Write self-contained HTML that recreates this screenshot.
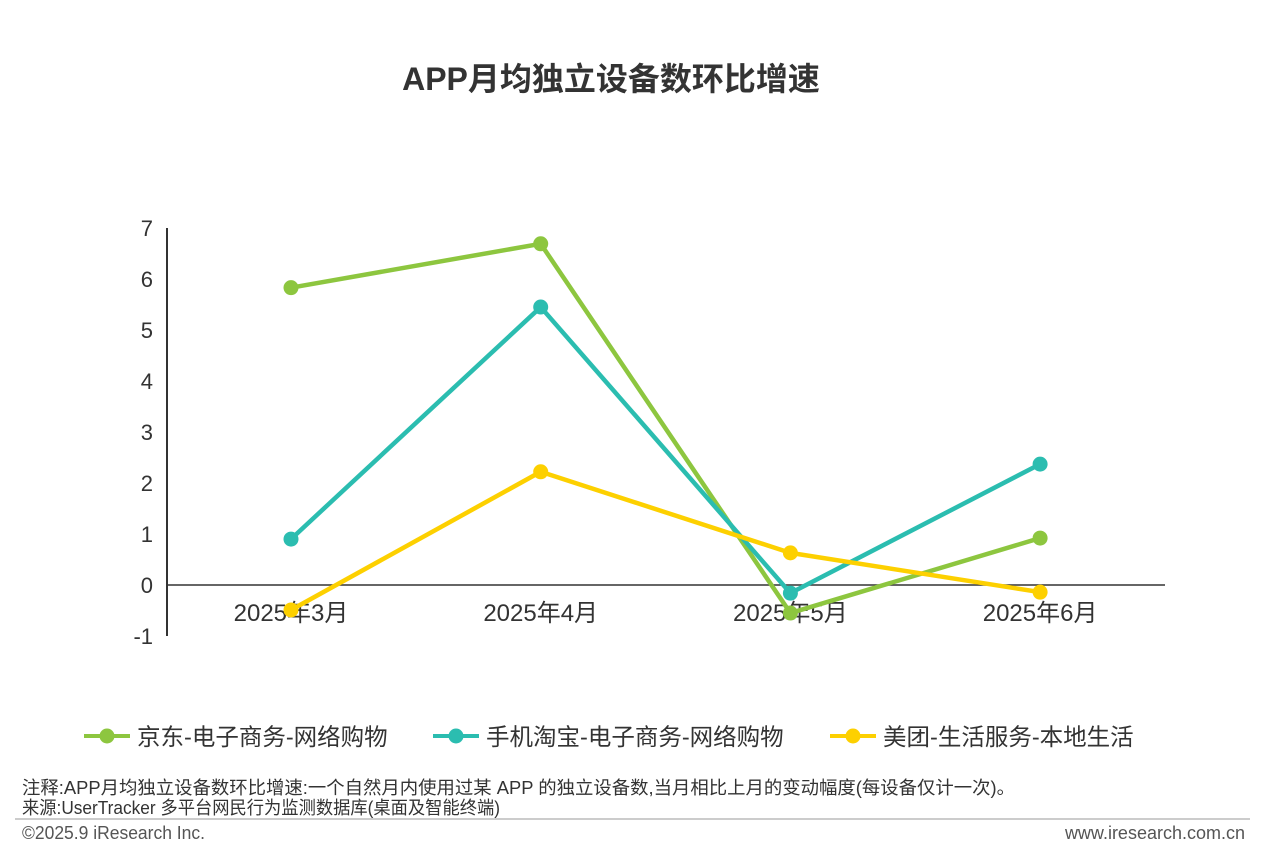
<!DOCTYPE html>
<html><head><meta charset="utf-8">
<style>
body{margin:0;width:1265px;height:843px;background:#fff;overflow:hidden;font-family:"Liberation Sans","Noto Sans CJK SC",sans-serif;}
svg text{font-family:"Liberation Sans","Noto Sans CJK SC",sans-serif;}
</style></head><body>
<svg id="chart" width="1265" height="843">
<text x="611" y="90" text-anchor="middle" font-size="32" font-weight="bold" fill="#333">APP月均独立设备数环比增速</text>
<g id="axes"></g>
<g id="series"></g>
<g id="legend"></g>
<text x="22" y="794" font-size="18" fill="#333" textLength="993" lengthAdjust="spacingAndGlyphs">注释:APP月均独立设备数环比增速:一个自然月内使用过某 APP 的独立设备数,当月相比上月的变动幅度(每设备仅计一次)。</text>
<text x="22" y="814" font-size="18" fill="#333" textLength="478" lengthAdjust="spacingAndGlyphs">来源:UserTracker 多平台网民行为监测数据库(桌面及智能终端)</text>
<line x1="15" y1="819" x2="1250" y2="819" stroke="#999" stroke-width="1"/>
<text x="22" y="839" font-size="18" fill="#555" textLength="183" lengthAdjust="spacingAndGlyphs">©2025.9 iResearch Inc.</text>
<text x="1245" y="839" text-anchor="end" font-size="18" fill="#555">www.iresearch.com.cn</text>
</svg>
<script>
const categories=["2025年3月","2025年4月","2025年5月","2025年6月"];
const yTicks=[7,6,5,4,3,2,1,0,-1];
const seriesNames=["京东-电子商务-网络购物","手机淘宝-电子商务-网络购物","美团-生活服务-本地生活"];
const jdValues=[5.83,6.69,-0.55,0.92];
const taobaoValues=[0.9,5.45,-0.16,2.37];
const meituanValues=[-0.49,2.22,0.63,-0.14];
const colors=["#8dc63f","#2bbdb0","#fdd000"];
const NS="http://www.w3.org/2000/svg";
const yScale=v=>585-v*51;
const xScale=i=>291+i*249.7;
function mk(tag,attrs,parent){const e=document.createElementNS(NS,tag);for(const k in attrs)e.setAttribute(k,attrs[k]);parent.appendChild(e);return e;}
const axes=document.getElementById('axes');
let yl=mk('line',{x1:167,y1:yScale(7),x2:167,y2:yScale(-1),stroke:'#333','stroke-width':2},axes);


let xl=mk('line',{x1:167,y1:yScale(0),x2:1165,y2:yScale(0),stroke:'#333','stroke-width':1.5},axes);


yTicks.forEach(v=>{const t=mk('text',{x:153,y:yScale(v)+8,'text-anchor':'end','font-size':22,fill:'#333'},axes);t.textContent=v;

});
categories.forEach((c,i)=>{const t=mk('text',{x:xScale(i),y:621,'text-anchor':'middle','font-size':24,fill:'#333'},axes);t.textContent=c;

});
const ser=document.getElementById('series');
[jdValues,taobaoValues,meituanValues].forEach((vals,s)=>{
const g=mk('g',{},ser);


const p=mk('polyline',{points:vals.map((v,i)=>xScale(i)+','+yScale(v)).join(' '),fill:'none',stroke:colors[s],'stroke-width':4.5,'stroke-linejoin':'round'},g);


vals.forEach((v,i)=>{const c=mk('circle',{cx:xScale(i),cy:yScale(v),r:7.5,fill:colors[s]},g);

});
});
const lg=document.getElementById('legend');
const lx=[84,433,830];
seriesNames.forEach((n,s)=>{
const g=mk('g',{},lg);


mk('line',{x1:lx[s],y1:736,x2:lx[s]+46,y2:736,stroke:colors[s],'stroke-width':4},g);
mk('circle',{cx:lx[s]+23,cy:736,r:7.5,fill:colors[s]},g);
const t=mk('text',{x:lx[s]+53,y:745,'font-size':23.5,fill:'#333'},g);t.textContent=n;
});
</script>
</body></html>
